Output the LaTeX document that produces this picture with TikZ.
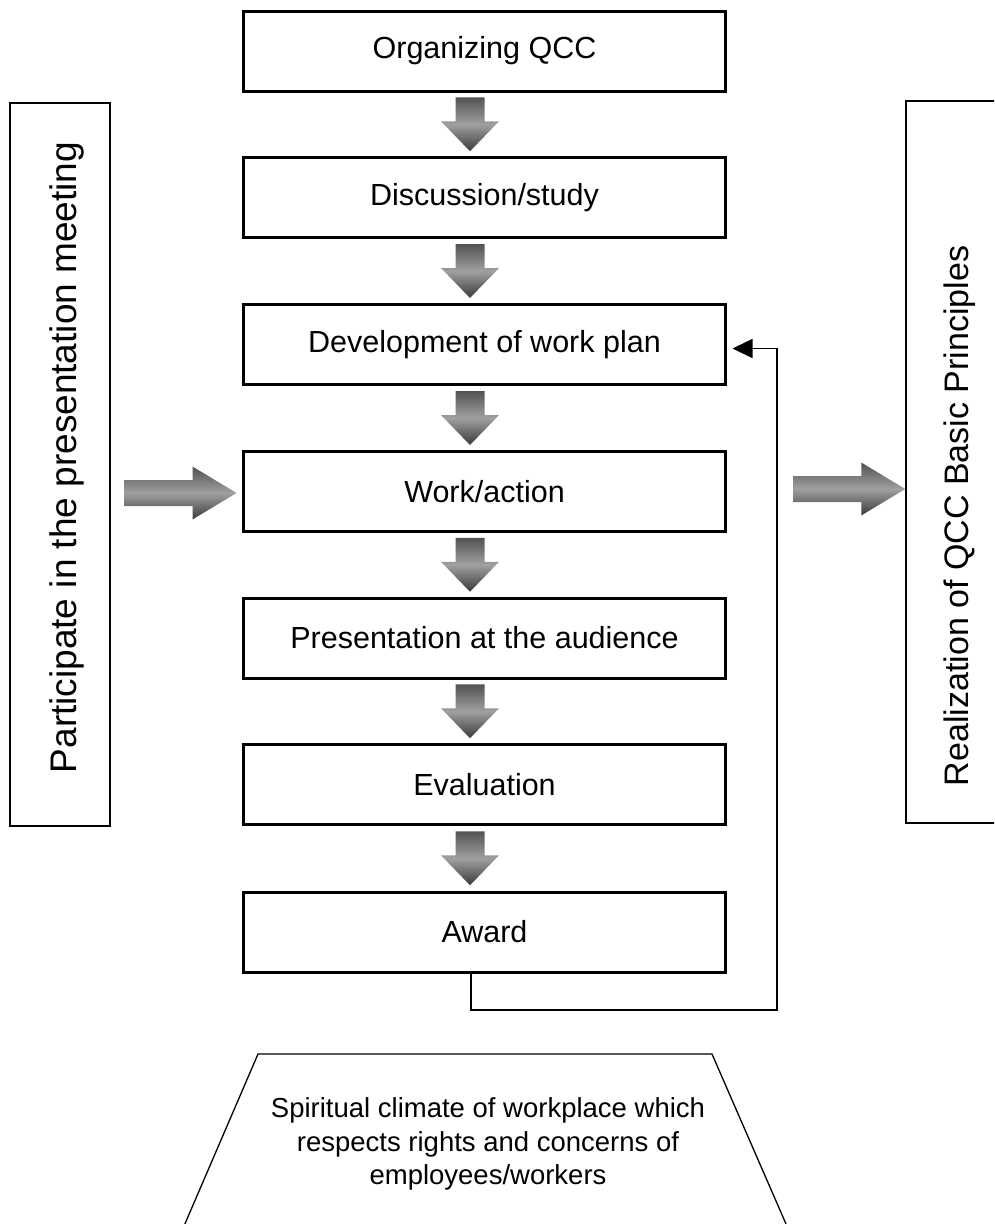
\documentclass[tikz,border=0pt]{standalone}
\usepackage{fontspec}
\setmainfont{Liberation Sans}
\usetikzlibrary{calc,arrows.meta}
\definecolor{shadeTop}{RGB}{82,82,82}
\definecolor{shadeMid}{RGB}{160,160,160}
\definecolor{shadeBot}{RGB}{58,58,58}
\begin{document}
\begin{tikzpicture}[x=1pt,y=-1pt,
  stepbox/.style={draw, line width=3pt, minimum width=482pt, minimum height=80pt,
    inner sep=0pt, outer sep=0pt, font=\fontsize{30.5}{36}\selectfont},
  sidebox/.style={draw, line width=1.5pt, minimum width=100pt, minimum height=723pt},
  sidetext/.style={rotate=90, inner sep=0pt},
  arrowshade/.style={top color=shadeTop, bottom color=shadeBot, middle color=shadeMid, draw=none},
  fbline/.style={line width=1.5pt, -{Triangle[length=20pt,width=19pt]}},
  climatetext/.style={align=center, font=\fontsize{27.5}{33.5}\selectfont},
  downarrow/.pic={\shade[arrowshade] (-14.5,-27) -- (14.5,-27) -- (14.5,-3) -- (29,-3)
     -- (0,27) -- (-29,-3) -- (-14.5,-3) -- cycle;},
  rightarrow/.pic={\shade[arrowshade] (-112,-13) -- (-44,-13) -- (-44,-26.5) -- (0,0)
     -- (-44,26.5) -- (-44,13) -- (-112,13) -- cycle;}
]
\path[use as bounding box, clip] (0,0) rectangle (994,1224);
\fill[white] (0,0) rectangle (994,1224);

% main chain of steps
\node[stepbox] (b1) at (484.5,51)    {Organizing QCC};
\node[stepbox] (b2) at (484.5,197.5) {Discussion/study};
\node[stepbox] (b3) at (484.5,344.5) {Development of work plan};
\node[stepbox] (b4) at (484.5,491.5) {Work/action};
\node[stepbox] (b5) at (484.5,638)   {Presentation at the audience};
\node[stepbox] (b6) at (484.5,784.5) {Evaluation};
\node[stepbox] (b7) at (484.5,932)   {Award};

% shaded block arrows between the steps
\foreach \a/\b in {b1/b2,b2/b3,b3/b4,b4/b5,b5/b6,b6/b7}
  \pic at ($(\a.south)!0.5!(\b.north)+(-14.5,0)$) {downarrow};

% side boxes with vertical captions
\node[sidebox] (lbox) at (60,464.5) {};
\node[sidetext, font=\fontsize{37}{42}\selectfont] (ltext) at (67,457.5)
  {Participate in the presentation meeting};
\node[sidebox, minimum width=108pt, minimum height=722pt] (rbox) at (960,462) {};
\node[sidetext, font=\fontsize{34}{40}\selectfont] (rtext) at (960,516)
  {Realization of QCC Basic Principles};

% horizontal block arrows
\pic at ($(b4.west)+(-7,1.5)$) {rightarrow};
\pic at ($(rbox.west |- b4.east)+(0,-2.5)$) {rightarrow};

% feedback loop from Award back to the work plan
\coordinate (fbturn) at (777,1010);
\draw[fbline] ($(b7.south)+(-13.5,0)$) |- (fbturn) |- ($(b3.east)+(7,4)$);

% base: climate of the workplace
\draw[line width=1.3pt] (178,1240) -- (258,1054) -- (712,1054) -- (793,1240);
\node[climatetext] (climate) at (488,1144)
  {Spiritual climate of workplace which\\respects rights and concerns of\\employees/workers};
\end{tikzpicture}
\end{document}
